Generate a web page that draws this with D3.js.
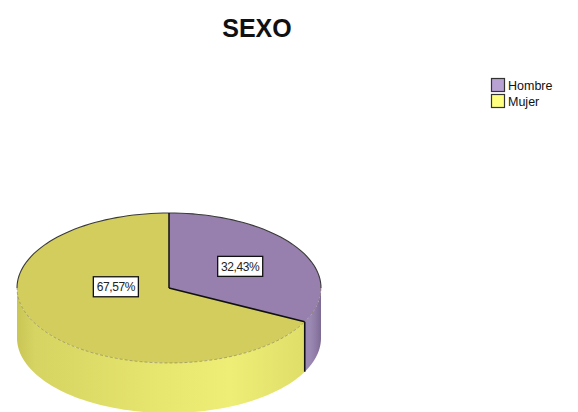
<!DOCTYPE html>
<html>
<head>
<meta charset="utf-8">
<script src="https://cdn.jsdelivr.net/npm/d3@7"></script>
<style>
  html, body { margin: 0; padding: 0; background: #fff; }
  svg { display: block; font-family: "Liberation Sans", Arial, sans-serif; }
</style>
</head>
<body>
<svg id="chart" width="578" height="412"></svg>
<script>
// Gender split (percent of respondents)
const categories = ["Hombre", "Mujer"];
const values = [32.43, 67.57];
const chartTitle = "SEXO";

const svg = d3.select("#chart");

// Pie geometry: elliptical top face plus a vertical rim
const cx = 169, cy = 288, rx = 152, ry = 75, depth = 50;

const topColors  = ["#9780ad", "#d2cd5d"];
const legendFill = ["#b8a2d3", "#ffff80"];

// angles measured clockwise from 12 o'clock, in parametric (un-squashed) space
const pie = d3.pie().sort(null).startAngle(0).endAngle(2 * Math.PI);
const arcs = pie(values);

const px = a => cx + rx * Math.sin(a);
const py = (a, dz = 0) => cy - ry * Math.cos(a) + dz;

function arcPoints(a0, a1, dz, n = 80) {
  const pts = [];
  for (let i = 0; i <= n; i++) {
    const a = a0 + (a1 - a0) * i / n;
    pts.push([px(a), py(a, dz)]);
  }
  return pts;
}

const defs = svg.append("defs");

// Rim shading: darker at the edges, lighter towards the front
const sideGrad = [
  { id: "sideP", stops: [[0, "#9c89b3"], [0.5, "#8f7ba6"], [1, "#7d6b94"]] },
  { id: "sideY", stops: [[0, "#c9c655"], [0.06, "#d6d462"], [0.45, "#e6e56e"], [0.7, "#eeed76"], [1, "#dcdb66"]] }
];
sideGrad.forEach(g => {
  const lg = defs.append("linearGradient").attr("id", g.id)
    .attr("gradientUnits", "userSpaceOnUse")
    .attr("x1", g.id === "sideP" ? px(Math.PI * 0.62) : cx - rx).attr("x2", cx + rx)
    .attr("y1", 0).attr("y2", 0);
  g.stops.forEach(s => lg.append("stop").attr("offset", s[0]).attr("stop-color", s[1]));
});

const line = d3.line();
const gPie = svg.append("g");

// Rim segments (only the front half, PI/2 .. 3PI/2, is visible)
arcs.forEach((d, i) => {
  const a0 = Math.max(d.startAngle, Math.PI / 2);
  const a1 = Math.min(d.endAngle, Math.PI * 1.5);
  if (a1 <= a0) return;
  const top = arcPoints(a0, a1, 0);
  const bottom = arcPoints(a1, a0, depth);
  gPie.append("path")
    .attr("d", line(top.concat(bottom)) + "Z")
    .attr("fill", i === 0 ? "url(#sideP)" : "url(#sideY)")
    .attr("stroke", "none");
});

// Vertical edge where the slices meet on the front rim
arcs.forEach(d => {
  const a = d.endAngle;
  if (a > Math.PI / 2 && a < Math.PI * 1.5) {
    gPie.append("line")
      .attr("x1", px(a)).attr("y1", py(a))
      .attr("x2", px(a)).attr("y2", py(a, depth))
      .attr("stroke", "#111").attr("stroke-width", 1.6);
  }
});

// Top faces
arcs.forEach((d, i) => {
  const pts = [[cx, cy]].concat(arcPoints(d.startAngle, d.endAngle, 0));
  gPie.append("path")
    .attr("d", line(pts) + "Z")
    .attr("fill", topColors[i])
    .attr("stroke", "none");
});

// Outline of the back edge of the top face
gPie.append("path")
  .attr("d", line(arcPoints(-Math.PI / 2, Math.PI / 2, 0)))
  .attr("fill", "none").attr("stroke", "#3a3a3a").attr("stroke-width", 1.1);
// Softer front edge
gPie.append("path")
  .attr("d", line(arcPoints(Math.PI / 2, Math.PI * 1.5, 0)))
  .attr("fill", "none").attr("stroke", "#6e6a3c").attr("stroke-width", 0.8)
  .attr("stroke-dasharray", "3,2").attr("opacity", 0.6);

// Slice dividers on the top face
arcs.forEach(d => {
  gPie.append("line")
    .attr("x1", cx).attr("y1", cy)
    .attr("x2", px(d.startAngle)).attr("y2", py(d.startAngle))
    .attr("stroke", "#111").attr("stroke-width", 1.5);
});

// Percentage labels in boxes
const fmt = v => d3.format(".2f")(v).replace(".", ",") + "%";
const labelSpots = [
  d => ({ a: (d.startAngle + d.endAngle) / 2, f: 0.55 }),
  d => ({ a: Math.PI * 1.515, f: 0.35 })
];
arcs.forEach((d, i) => {
  const s = labelSpots[i](d);
  const x = cx + s.f * rx * Math.sin(s.a);
  const y = cy - s.f * ry * Math.cos(s.a);
  const g = gPie.append("g").attr("transform", `translate(${x},${y})`);
  const t = g.append("text")
    .attr("text-anchor", "middle").attr("dy", "0.36em")
    .attr("font-size", 12).attr("fill", "#222")
    .attr("letter-spacing", -0.4)
    .text(fmt(d.data));
  const bb = t.node().getBBox();
  g.insert("rect", "text")
    .attr("x", -bb.width / 2 - 3).attr("y", -10)
    .attr("width", bb.width + 6).attr("height", 20)
    .attr("fill", "#fff").attr("stroke", "#111").attr("stroke-width", 1.3);
});

// Title
svg.append("text")
  .attr("x", 257).attr("y", 37)
  .attr("text-anchor", "middle")
  .attr("font-size", 25).attr("font-weight", "bold").attr("fill", "#111")
  .text(chartTitle);

// Legend
const leg = svg.append("g").attr("transform", "translate(491,78)");
categories.forEach((c, i) => {
  const row = leg.append("g").attr("transform", `translate(0,${i * 16})`);
  row.append("rect")
    .attr("x", 0.5).attr("y", 0.5).attr("width", 13).attr("height", 13)
    .attr("fill", legendFill[i]).attr("stroke", "#333").attr("stroke-width", 1.2);
  row.append("text")
    .attr("x", 17).attr("y", 11.5)
    .attr("font-size", 12.5).attr("fill", "#111")
    .text(c);
});
</script>
</body>
</html>
